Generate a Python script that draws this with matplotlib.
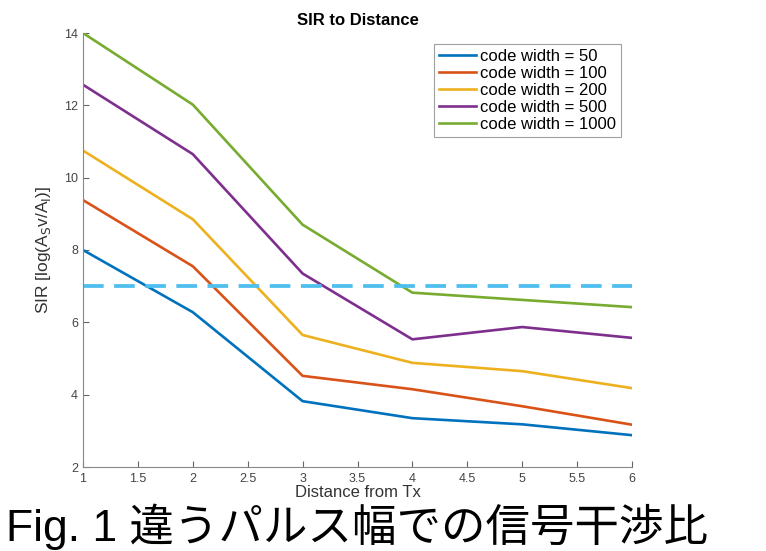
import matplotlib
matplotlib.use("Agg")
import matplotlib.pyplot as plt

plt.rcParams['font.family'] = ['Liberation Sans', 'DejaVu Sans']

distance = [1, 2, 3, 4, 5, 6]
sir_50 = [8.0, 6.28, 3.82, 3.35, 3.18, 2.88]
sir_100 = [9.38, 7.55, 4.52, 4.15, 3.68, 3.17]
sir_200 = [10.75, 8.85, 5.65, 4.88, 4.65, 4.18]
sir_500 = [12.57, 10.65, 7.35, 5.53, 5.87, 5.57]
sir_1000 = [14.0, 12.02, 8.7, 6.82, 6.62, 6.42]
threshold = 7
labels = ['code width = 50', 'code width = 100', 'code width = 200',
          'code width = 500', 'code width = 1000']
colors = ['#0072BD', '#D95319', '#EDB120', '#7E2F8E', '#77AC30']
xticks = [1, 1.5, 2, 2.5, 3, 3.5, 4, 4.5, 5, 5.5, 6]
xticklabels = ['1', '1.5', '2', '2.5', '3', '3.5', '4', '4.5', '5', '5.5', '6']
yticks = [2, 4, 6, 8, 10, 12, 14]

fig = plt.figure(figsize=(7.66, 5.51), dpi=100)
ax = fig.add_axes([83/766, 1-467/551, (632-83)/766, (467-33)/551])

series = [sir_50, sir_100, sir_200, sir_500, sir_1000]
for s, lab, c in zip(series, labels, colors):
    ax.plot(distance, s, color=c, lw=1.9, label=lab)

ax.plot([distance[0], distance[-1]], [threshold, threshold], color='#4DBEEE',
        lw=2.7, dashes=(5.5, 2.8))

ax.set_xlim(1, 6)
ax.set_ylim(2, 14)
ax.set_xticks(xticks)
ax.set_xticklabels(xticklabels)
ax.set_yticks(yticks)
ax.tick_params(direction='in', length=4, width=0.8, colors='#666666',
               labelsize=9, labelcolor='#444444')
ax.tick_params(axis='x', pad=4)
for sp in ['top', 'right']:
    ax.spines[sp].set_visible(False)
for sp in ['left', 'bottom']:
    ax.spines[sp].set_color('#888888')
    ax.spines[sp].set_linewidth(0.8)

ax.set_title('SIR to Distance', fontsize=12, fontweight='bold', pad=6)
ax.set_xlabel('Distance from Tx', fontsize=12, color='#333333', labelpad=0)
ax.set_ylabel(r'SIR [log(A$_\mathrm{S}$v/A$_\mathrm{I}$)]', fontsize=12.5,
              color='#333333')
ax.yaxis.set_label_coords(-0.055, 0.5)

leg = ax.legend(loc='upper right', bbox_to_anchor=(621/766, 1-44/551),
                bbox_transform=fig.transFigure, borderaxespad=0,
                fontsize=12, frameon=True, fancybox=False, handlelength=2.2,
                handletextpad=0.25, labelspacing=0.12, borderpad=0.3)
leg.get_frame().set_edgecolor('#888888')
leg.get_frame().set_linewidth(0.8)

fig.text(708/766, 1-541/551, 'Fig. 1 違うパルス幅での信号干渉比',
         fontsize=32, ha='right', va='baseline',
         family=['Liberation Sans', 'Noto Sans CJK JP'])

fig.savefig('out.png', dpi=100)
